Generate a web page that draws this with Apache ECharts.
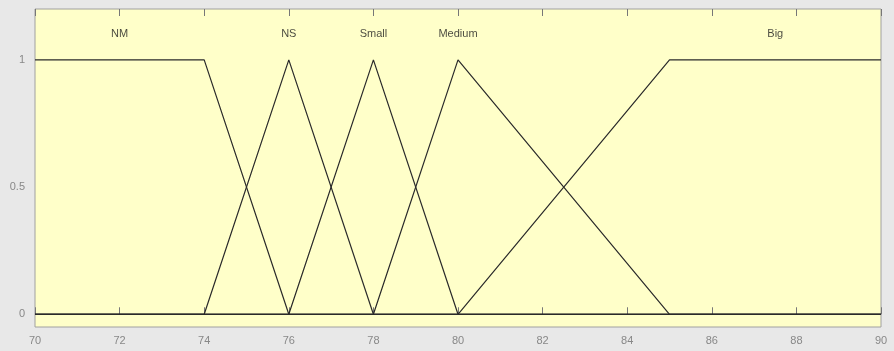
<!DOCTYPE html>
<html>
<head>
<meta charset="utf-8">
<script src="https://cdn.jsdelivr.net/npm/echarts@6/dist/echarts.min.js"></script>
<style>
html,body{margin:0;padding:0;background:#e8e8e8;}
#c{width:894px;height:351px;}
</style>
</head>
<body>
<div id="c"></div>
<script>
// Membership functions (x, membership)
const NM = [[70, 1], [74, 1], [76, 0], [90, 0]];
const NS = [[70, 0], [74, 0], [76, 1], [78, 0], [90, 0]];
const Small = [[70, 0], [76, 0], [78, 1], [80, 0], [90, 0]];
const Medium = [[70, 0], [78, 0], [80, 1], [85, 0], [90, 0]];
const Big = [[70, 0], [80, 0], [85, 1], [90, 1]];
const mfNames = ['NM', 'NS', 'Small', 'Medium', 'Big'];
const mfLabelX = [72, 76, 78, 80, 87.5];
const mfLabelY = 1.1;
const xTicks = [70, 72, 74, 76, 78, 80, 82, 84, 86, 88, 90];
const yTicks = [0, 0.5, 1];

const chart = echarts.init(document.getElementById('c'));
const lineStyle = {color: '#2a2a2a', width: 1.2};
const mfSeries = [NM, NS, Small, Medium, Big].map((d, i) => ({
  name: mfNames[i], type: 'line', data: d, symbol: 'none',
  lineStyle: lineStyle, silent: true, animation: false, z: 3
}));
const labelSeries = {
  type: 'scatter', symbolSize: 0, animation: false, silent: true,
  data: mfNames.map((n, i) => ({value: [mfLabelX[i], mfLabelY], name: n})),
  label: {show: true, position: 'inside', formatter: p => p.name,
    color: '#1a1a1a', fontFamily: 'Liberation Sans, Arial', fontSize: 11}
};
chart.setOption({
  backgroundColor: '#e8e8e8',
  animation: false,
  grid: {left: 35, right: 13, top: 9, bottom: 24, show: true,
    backgroundColor: '#ffffc9', borderColor: '#a0a0a0', borderWidth: 1},
  xAxis: [{
    type: 'value', min: 70, max: 90, interval: 2,
    axisLine: {show: false},
    axisTick: {show: true, inside: true, length: 7, lineStyle: {color: '#777'}},
    axisLabel: {color: '#888', fontSize: 11, fontFamily: 'Liberation Sans, Arial', margin: 8,
      customValues: xTicks},
    splitLine: {show: false}
  }, {
    type: 'value', position: 'top', min: 70, max: 90, interval: 2,
    axisLine: {show: false},
    axisTick: {show: true, inside: true, length: 7, lineStyle: {color: '#777'}},
    axisLabel: {show: false},
    splitLine: {show: false}
  }],
  yAxis: {
    type: 'value', min: -0.05, max: 1.2,
    axisLine: {show: false},
    axisTick: {show: false, customValues: yTicks},
    axisLabel: {color: '#888', fontSize: 11, fontFamily: 'Liberation Sans, Arial', margin: 10,
      customValues: yTicks},
    splitLine: {show: false}
  },
  series: [...mfSeries, labelSeries]
});
</script>
</body>
</html>
